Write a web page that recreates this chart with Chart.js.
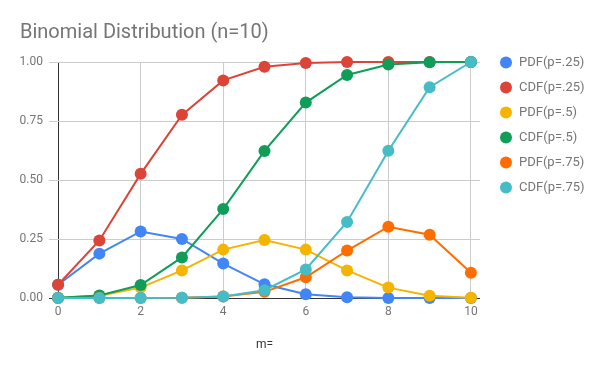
<!DOCTYPE html>
<html>
<head>
<meta charset="utf-8">
<script src="https://cdn.jsdelivr.net/npm/chart.js@4/dist/chart.umd.min.js"></script>
<style>
  html, body { margin: 0; padding: 0; background: #fff; }
  #wrap { width: 600px; height: 371px; }
</style>
</head>
<body>
<div id="wrap"><canvas id="myChart" width="600" height="371"></canvas></div>
<script>
// values
const mValues = [0, 1, 2, 3, 4, 5, 6, 7, 8, 9, 10];
const xTicks = [0, 2, 4, 6, 8, 10];
const yTicks = [0, 0.25, 0.5, 0.75, 1];

const seriesNames = ["PDF(p=.25)", "CDF(p=.25)", "PDF(p=.5)", "CDF(p=.5)", "PDF(p=.75)", "CDF(p=.75)"];
const seriesColors = ["#4285F4", "#DB4437", "#F4B400", "#0F9D58", "#FF6D00", "#46BDC6"];

const pdf25 = [0.056, 0.188, 0.282, 0.250, 0.146, 0.058, 0.016, 0.003, 0.000, 0.000, 0.000];
const cdf25 = [0.056, 0.244, 0.526, 0.776, 0.922, 0.980, 0.996, 1.000, 1.000, 1.000, 1.000];
const pdf5 = [0.001, 0.010, 0.044, 0.117, 0.205, 0.246, 0.205, 0.117, 0.044, 0.010, 0.001];
const cdf5 = [0.001, 0.011, 0.055, 0.172, 0.377, 0.623, 0.828, 0.945, 0.989, 0.999, 1.000];
const pdf75 = [0.000, 0.000, 0.000, 0.001, 0.006, 0.026, 0.088, 0.201, 0.302, 0.268, 0.107];
const cdf75 = [0.000, 0.000, 0.000, 0.001, 0.006, 0.033, 0.121, 0.322, 0.624, 0.893, 1.000];

const allSeries = [pdf25, cdf25, pdf5, cdf5, pdf75, cdf75];

function toPoints(values) {
  return values.map((v, i) => ({ x: mValues[i], y: v }));
}

const datasets = allSeries.map((vals, i) => ({
  label: seriesNames[i],
  data: toPoints(vals),
  borderColor: seriesColors[i],
  backgroundColor: seriesColors[i],
  borderWidth: 2,
  pointRadius: 6,
  pointHoverRadius: 6,
  pointBorderWidth: 0,
  tension: 0,
  clip: false,
  order: allSeries.length - i
}));

// title + legend drawn by hand so they sit where the reference has them
const sideBits = {
  id: "sideBits",
  afterDraw(chart) {
    const ctx = chart.ctx;
    ctx.save();
    ctx.fillStyle = "#757575";
    ctx.font = "20px Roboto";
    ctx.textAlign = "left";
    ctx.textBaseline = "alphabetic";
    ctx.fillText("Binomial Distribution (n=10)", 20, 38);

    ctx.font = "13px Roboto";
    ctx.textBaseline = "middle";
    chart.data.datasets.forEach((ds, i) => {
      const y = 62.5 + i * 25;
      ctx.beginPath();
      ctx.arc(506, y, 6, 0, Math.PI * 2);
      ctx.fillStyle = ds.backgroundColor;
      ctx.fill();
      ctx.fillStyle = "#757575";
      ctx.fillText(ds.label, 519, y);
    });
    ctx.restore();
  }
};

const config = {
  type: "line",
  data: { datasets: datasets },
  plugins: [sideBits],
  options: {
    responsive: false,
    animation: false,
    events: [],
    layout: { padding: { top: 62, right: 120, left: 0, bottom: 0 } },
    plugins: {
      legend: { display: false },
      title: { display: false },
      tooltip: { enabled: false }
    },
    scales: {
      x: {
        type: "linear",
        min: -0.22,
        max: 10.22,
        afterFit: s => { s.height = 73; },
        afterBuildTicks: s => { s.ticks = xTicks.map(v => ({ value: v })); },
        grid: {
          color: c => (c.tick && c.tick.value === 0 ? "#333333" : "#cccccc"),
          lineWidth: 1,
          drawTicks: false
        },
        border: { display: false },
        ticks: {
          color: "#757575",
          font: { family: "Roboto", size: 12 },
          padding: 7,
          maxRotation: 0
        },
        title: {
          display: true,
          text: "m=",
          color: "#333333",
          font: { family: "Roboto", size: 12 },
          padding: { top: 4, bottom: 19 }
        }
      },
      y: {
        min: 0,
        max: 1,
        afterFit: s => { s.width = 49; },
        afterBuildTicks: s => { s.ticks = yTicks.map(v => ({ value: v })); },
        grid: {
          color: c => (c.tick && c.tick.value === 0 ? "#333333" : "#cccccc"),
          lineWidth: 1,
          drawTicks: false
        },
        border: { display: false },
        ticks: {
          color: "#757575",
          font: { family: "Roboto", size: 12 },
          padding: 6,
          callback: v => v.toFixed(2)
        }
      }
    }
  }
};

const myChart = new Chart(document.getElementById("myChart"), config);
</script>
</body>
</html>
